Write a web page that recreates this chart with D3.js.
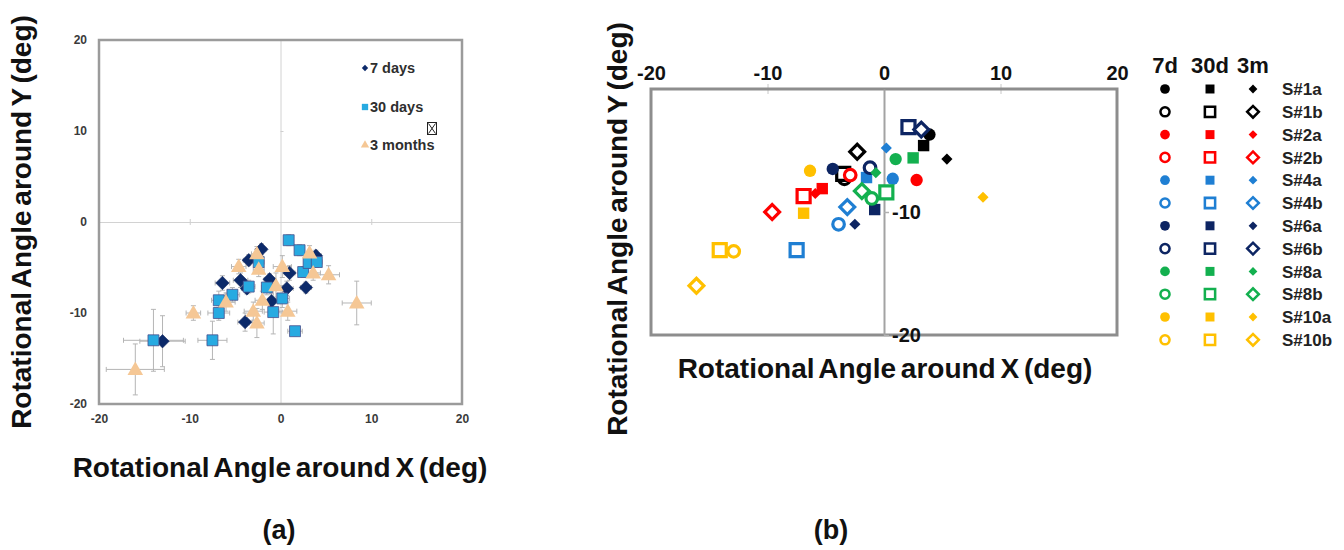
<!DOCTYPE html>
<html>
<head>
<meta charset="utf-8">
<script src="https://cdn.jsdelivr.net/npm/d3@7"></script>
<style>
  body { margin: 0; background: #fff; }
  svg { font-family: "Liberation Sans", Arial, sans-serif; font-weight: bold; }
</style>
</head>
<body>
<svg id="chart" width="1344" height="550"></svg>
<script>
// ---- data ----
const axisTicks = [-20, -10, 0, 10, 20];

// panel (a): [x, y, xErr, yErr] in degrees
const days7 = [
  [-13.0, -13.1, 2.5, 2.8], [-6.4, -6.7, 0.8, 0.8], [-4.4, -6.4, 0.8, 0.8],
  [-3.5, -4.2, 0.6, 0.6], [-2.1, -3.0, 0.5, 0.6], [-3.9, -11.0, 0.8, 1.0],
  [-3.7, -7.3, 0.6, 0.6], [-1.2, -6.3, 0.6, 0.6], [-1.0, -8.7, 0.8, 0.8],
  [1.0, -5.6, 0.6, 0.8], [0.7, -7.3, 0.7, 0.8], [2.8, -7.2, 0.6, 0.6],
  [3.9, -3.7, 0.6, 0.6]
];
const days30 = [
  [-14.0, -13.0, 3.3, 3.4], [-7.5, -13.0, 1.6, 2.1], [-6.8, -8.6, 0.8, 1.0],
  [-6.8, -10.0, 1.2, 0.8], [-5.3, -8.0, 0.8, 0.8], [-3.5, -7.1, 0.7, 0.7],
  [-2.4, -4.4, 0.6, 0.6], [-1.5, -7.2, 0.6, 0.8], [-0.8, -9.9, 1.0, 2.4],
  [0.2, -8.4, 0.8, 1.0], [0.9, -2.0, 0.4, 0.6], [2.1, -3.1, 0.5, 0.6],
  [2.5, -5.5, 0.6, 0.6], [3.1, -4.5, 0.5, 0.6], [4.0, -4.4, 0.6, 0.6],
  [1.6, -12.0, 0.8, 0.5]
];
const months3 = [
  [-16.0, -16.2, 3.2, 2.8], [-9.6, -10.0, 0.8, 0.8], [-6.0, -8.8, 1.0, 1.0],
  [-4.6, -4.9, 0.8, 0.8], [-2.6, -3.5, 0.6, 0.8], [-2.4, -5.2, 0.6, 0.8],
  [-3.0, -9.8, 1.0, 1.0], [-2.6, -11.1, 0.8, 1.6], [-2.0, -8.6, 0.8, 1.0],
  [-0.5, -7.0, 1.2, 1.4], [0.2, -4.9, 1.0, 1.2], [0.8, -9.8, 1.0, 1.0],
  [3.2, -3.4, 0.6, 0.8], [3.6, -5.6, 0.8, 0.8], [5.3, -5.8, 1.2, 1.0],
  [8.4, -8.9, 1.6, 2.4]
];
const seriesA = ['7 days', '30 days', '3 months'];

// panel (b): one point per sample and period, [x, y]
const samples = ['S#1a', 'S#1b', 'S#2a', 'S#2b', 'S#4a', 'S#4b',
                 'S#6a', 'S#6b', 'S#8a', 'S#8b', 'S#10a', 'S#10b'];
const periods = ['7d', '30d', '3m'];
const b7d = [
  [3.9, -3.7], [-3.4, -7.3], [2.8, -7.4], [-2.9, -7.0], [0.75, -7.3], [-3.9, -11.0],
  [-4.4, -6.5], [-1.2, -6.4], [1.0, -5.7], [-1.05, -8.9], [-6.35, -6.65], [-12.9, -13.2]
];
const b30d = [
  [3.4, -4.6], [-3.5, -6.9], [-5.3, -8.1], [-6.9, -8.7], [-1.5, -7.2], [-7.5, -13.1],
  [-0.8, -9.8], [2.1, -3.1], [2.5, -5.6], [0.2, -8.4], [-6.9, -10.1], [-14.1, -13.1]
];
const b3m = [
  [5.4, -5.7], [-2.3, -5.1], [-5.9, -8.5], [-9.6, -10.0], [0.2, -4.8], [-3.15, -9.6],
  [-2.5, -11.0], [3.2, -3.3], [-0.7, -6.8], [-1.9, -8.3], [8.5, -8.8], [-16.1, -16.0]
];

// ---- styles ----
const aColors = ['#0c2a6a', '#27aae1', '#f5c795'];
const sampleColors = ['#000000', '#ff0000', '#1f7fd3', '#0d2563', '#13b04f', '#ffc000'];
const colorOf = i => sampleColors[Math.floor(i / 2)];
const hollowOf = i => i % 2 === 1;
const plain = d => String(d); // hyphen minus, like the original

const svg = d3.select('#chart');

// ================= panel (a) =================
const xa = d3.scaleLinear().domain([-20, 20]).range([99, 462]);
const ya = d3.scaleLinear().domain([-20, 20]).range([404, 40]);
const ga = svg.append('g');

// cross-hair axes through the origin
ga.append('g')
  .attr('transform', `translate(0,${ya(0)})`)
  .call(d3.axisBottom(xa).tickValues([-10, 10]).tickSizeInner(3).tickSizeOuter(0).tickFormat(''))
  .call(g => {
    g.select('.domain').attr('stroke', '#d2d2d2');
    g.selectAll('.tick line').attr('y1', -3).attr('stroke', '#cfcfcf');
  });
ga.append('g')
  .attr('transform', `translate(${xa(0)},0)`)
  .call(d3.axisLeft(ya).tickValues([10, -10]).tickSizeInner(3).tickSizeOuter(0).tickFormat(''))
  .call(g => {
    g.select('.domain').attr('stroke', '#d2d2d2');
    g.selectAll('.tick line').attr('x2', 3).attr('stroke', '#cfcfcf');
  });

ga.append('rect')
  .attr('x', xa(-20)).attr('y', ya(20))
  .attr('width', xa(20) - xa(-20)).attr('height', ya(-20) - ya(20))
  .attr('fill', 'none').attr('stroke', '#9b9b9b').attr('stroke-width', 2.5);

// tick labels
ga.append('g')
  .attr('transform', `translate(0,${ya(-20)})`)
  .call(d3.axisBottom(xa).tickValues(axisTicks).tickFormat(plain).tickSize(0).tickPadding(10))
  .call(g => {
    g.select('.domain').remove();
    g.selectAll('text').attr('font-size', 12).attr('font-family', null).attr('fill', '#3a3a3a');
  });
ga.append('g')
  .attr('transform', `translate(${xa(-20)},0)`)
  .call(d3.axisLeft(ya).tickValues(axisTicks).tickFormat(plain).tickSize(0).tickPadding(12))
  .call(g => {
    g.select('.domain').remove();
    g.selectAll('text').attr('font-size', 12).attr('font-family', null).attr('fill', '#3a3a3a');
  });

// error bars
const errG = ga.append('g').attr('stroke', '#b5b5b5').attr('stroke-width', 1);
[days7, days30, months3].forEach(series => {
  series.forEach(([x, y, ex, ey]) => {
    const cap = 2.5;
    errG.append('line').attr('x1', xa(x - ex)).attr('x2', xa(x + ex)).attr('y1', ya(y)).attr('y2', ya(y));
    errG.append('line').attr('x1', xa(x - ex)).attr('x2', xa(x - ex)).attr('y1', ya(y) - cap).attr('y2', ya(y) + cap);
    errG.append('line').attr('x1', xa(x + ex)).attr('x2', xa(x + ex)).attr('y1', ya(y) - cap).attr('y2', ya(y) + cap);
    errG.append('line').attr('x1', xa(x)).attr('x2', xa(x)).attr('y1', ya(y - ey)).attr('y2', ya(y + ey));
    errG.append('line').attr('x1', xa(x) - cap).attr('x2', xa(x) + cap).attr('y1', ya(y - ey)).attr('y2', ya(y - ey));
    errG.append('line').attr('x1', xa(x) - cap).attr('x2', xa(x) + cap).attr('y1', ya(y + ey)).attr('y2', ya(y + ey));
  });
});

const diamondA = d3.symbol().type(d3.symbolSquare).size(90)();
const squareA = d3.symbol().type(d3.symbolSquare).size(120)();
const triangleA = d3.symbol().type(d3.symbolTriangle).size(105)();

ga.append('g').selectAll('path').data(days7).join('path')
  .attr('d', diamondA)
  .attr('transform', d => `translate(${xa(d[0])},${ya(d[1])}) rotate(45)`)
  .attr('fill', aColors[0]).attr('stroke', '#1b2f66').attr('stroke-width', 0.6);
ga.append('g').selectAll('path').data(days30).join('path')
  .attr('d', squareA)
  .attr('transform', d => `translate(${xa(d[0])},${ya(d[1])})`)
  .attr('fill', aColors[1]).attr('stroke', '#4a4f8c').attr('stroke-width', 0.8);
ga.append('g').selectAll('path').data(months3).join('path')
  .attr('d', triangleA)
  .attr('transform', d => `translate(${xa(d[0])},${ya(d[1]) + 1})`)
  .attr('fill', aColors[2]);

// legend (a)
const legA = ga.append('g');
const legShapes = [
  [d3.symbol().type(d3.symbolSquare).size(20)(), 45],
  [d3.symbol().type(d3.symbolSquare).size(40)(), 0],
  [d3.symbol().type(d3.symbolTriangle).size(30)(), 0]
];
const legY = [68, 107, 145];
seriesA.forEach((name, i) => {
  legA.append('path')
    .attr('d', legShapes[i][0])
    .attr('transform', `translate(365,${legY[i]}) rotate(${legShapes[i][1]})`)
    .attr('fill', aColors[i]);
  legA.append('text')
    .attr('x', 370).attr('y', legY[i]).attr('dy', '0.36em')
    .attr('font-size', 14.5).attr('fill', '#2e2e2e')
    .text(name);
});
// the stray "missing glyph" box of the original legend
legA.append('rect').attr('x', 427.5).attr('y', 122.5).attr('width', 9).attr('height', 12)
  .attr('fill', 'none').attr('stroke', '#222').attr('stroke-width', 1);
legA.append('path').attr('d', 'M428.5,123.5L435.5,133.5M435.5,123.5L428.5,133.5')
  .attr('stroke', '#222').attr('stroke-width', 1);

// titles (a)
ga.append('text')
  .attr('transform', 'translate(31,222) rotate(-90)')
  .attr('text-anchor', 'middle').attr('font-size', 28).attr('word-spacing', -3)
  .attr('fill', '#111')
  .text('Rotational Angle around Y (deg)');
ga.append('text')
  .attr('x', 280).attr('y', 477)
  .attr('text-anchor', 'middle').attr('font-size', 28).attr('word-spacing', -3)
  .attr('fill', '#111')
  .text('Rotational Angle around X (deg)');
ga.append('text')
  .attr('x', 279).attr('y', 539)
  .attr('text-anchor', 'middle').attr('font-size', 27).attr('fill', '#111')
  .text('(a)');

// ================= panel (b) =================
const xb = d3.scaleLinear().domain([-20, 20]).range([651, 1117]);
const yb = d3.scaleLinear().domain([-20, 0]).range([335, 89]);
const gb = svg.append('g');

// small ticks on the top edge
gb.append('g')
  .attr('transform', `translate(0,${yb(0)})`)
  .call(d3.axisTop(xb).tickValues([-10, 10]).tickSizeInner(5).tickSizeOuter(0).tickFormat(''))
  .call(g => {
    g.select('.domain').remove();
    g.selectAll('.tick line').attr('y2', 5).attr('y1', -5).attr('stroke', '#c8c8c8');
  });

gb.append('rect')
  .attr('x', xb(-20)).attr('y', yb(0))
  .attr('width', xb(20) - xb(-20)).attr('height', yb(-20) - yb(0))
  .attr('fill', 'none').attr('stroke', '#8d8d8d').attr('stroke-width', 3);

// vertical axis along x = 0 (labels sit over the frame)
gb.append('g')
  .attr('transform', `translate(${xb(0)},0)`)
  .call(d3.axisRight(yb).tickValues([-10, -20]).tickFormat(plain).tickSizeInner(5).tickSizeOuter(0).tickPadding(3))
  .call(g => {
    g.select('.domain').attr('stroke', '#a3a3a3').attr('stroke-width', 2);
    g.selectAll('.tick line').attr('stroke', '#b0b0b0').attr('stroke-width', 1.5);
    g.selectAll('text').attr('font-size', 20).attr('font-family', null).attr('fill', '#111');
  });

// top tick labels
gb.append('g')
  .attr('transform', `translate(0,${yb(0)})`)
  .call(d3.axisTop(xb).tickValues(axisTicks).tickFormat(plain).tickSize(0).tickPadding(9))
  .call(g => {
    g.select('.domain').remove();
    g.selectAll('text').attr('font-size', 20).attr('font-family', null).attr('fill', '#111');
  });

// markers
function markerPath(shape, hollow, k) {
  if (shape === 0) return d3.symbol().type(d3.symbolCircle).size(hollow ? 105 * k : 120 * k)();
  if (shape === 1) return d3.symbol().type(d3.symbolSquare).size(hollow ? 170 * k : 130 * k)();
  return d3.symbol().type(d3.symbolSquare).size(hollow ? 110 * k : 62 * k)();
}
function drawMarker(g, shape, i, cx, cy, k) {
  const hollow = hollowOf(i);
  g.append('path')
    .attr('d', markerPath(shape, hollow, k))
    .attr('transform', `translate(${cx},${cy})` + (shape === 2 ? ' rotate(45)' : ''))
    .attr('fill', hollow ? '#fff' : colorOf(i))
    .attr('stroke', hollow ? colorOf(i) : 'none')
    .attr('stroke-width', hollow ? 3.2 * Math.sqrt(k) : 0);
}

const pts = gb.append('g');
samples.forEach((s, i) => {
  [b7d, b30d, b3m].forEach((arr, shape) => {
    drawMarker(pts, shape, i, xb(arr[i][0]), yb(arr[i][1]), 1);
  });
});

// legend (b)
const legB = gb.append('g');
const colX = [1165, 1210, 1253];
periods.forEach((p, j) => {
  legB.append('text')
    .attr('x', colX[j]).attr('y', 73)
    .attr('text-anchor', 'middle').attr('font-size', 22).attr('fill', '#111')
    .text(p);
});
samples.forEach((s, i) => {
  const ry = 89 + i * 22.8;
  colX.forEach((cx, j) => drawMarker(legB, j, i, cx, ry, 0.62));
  legB.append('text')
    .attr('x', 1282).attr('y', ry).attr('dy', '0.36em')
    .attr('font-size', 17).attr('fill', '#222')
    .text(s);
});

// titles (b)
gb.append('text')
  .attr('transform', 'translate(627,229) rotate(-90)')
  .attr('text-anchor', 'middle').attr('font-size', 28).attr('word-spacing', -3)
  .attr('fill', '#111')
  .text('Rotational Angle around Y (deg)');
gb.append('text')
  .attr('x', 885).attr('y', 378)
  .attr('text-anchor', 'middle').attr('font-size', 28).attr('word-spacing', -3)
  .attr('fill', '#111')
  .text('Rotational Angle around X (deg)');
gb.append('text')
  .attr('x', 831).attr('y', 539)
  .attr('text-anchor', 'middle').attr('font-size', 27).attr('fill', '#111')
  .text('(b)');
</script>
</body>
</html>
